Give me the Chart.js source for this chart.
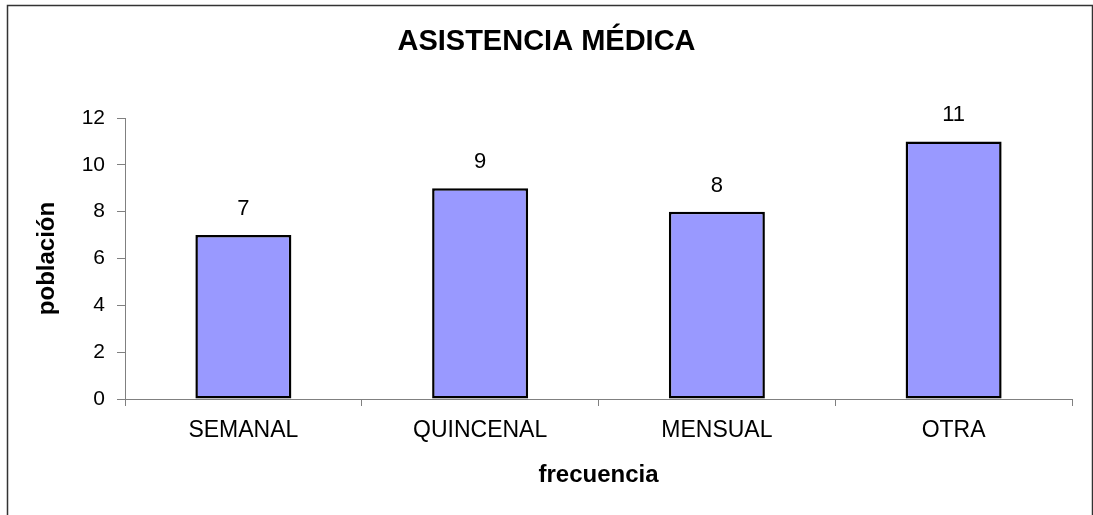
<!DOCTYPE html>
<html>
<head>
<meta charset="utf-8">
<script src="https://cdn.jsdelivr.net/npm/chart.js@4/dist/chart.umd.min.js"></script>
<style>
  html, body { margin: 0; padding: 0; background: #ffffff; }
  #wrap { width: 1093px; height: 515px; position: relative; }
</style>
</head>
<body>
<div id="wrap"><canvas id="c"></canvas></div>
<script>
const titleText = "ASISTENCIA MÉDICA";
const categories = ["SEMANAL", "QUINCENAL", "MENSUAL", "OTRA"];
const poblacion = [7, 9, 8, 11];
const xAxisTitle = "frecuencia";
const yAxisTitle = "población";
const yMin = 0, yMax = 12, yStep = 2;

const FONT = 'Arial, "Liberation Sans", sans-serif';
const AXIS_GREY = '#808080';

const framePlugin = {
  id: 'frame',
  beforeDraw(chart) {
    const ctx = chart.ctx;
    ctx.save();
    ctx.fillStyle = '#ffffff';
    ctx.fillRect(0, 0, chart.width, chart.height);
    ctx.strokeStyle = '#333333';
    ctx.lineWidth = 1.5;
    ctx.strokeRect(7.5, 5.5, 1085, 600);
    ctx.restore();
  }
};

const valueLabels = {
  id: 'valueLabels',
  afterDatasetsDraw(chart) {
    const ctx = chart.ctx;
    const meta = chart.getDatasetMeta(0);
    ctx.save();
    ctx.font = '22px ' + FONT;
    ctx.fillStyle = '#000000';
    ctx.textAlign = 'center';
    ctx.textBaseline = 'middle';
    meta.data.forEach((bar, i) => {
      ctx.fillText(String(chart.data.datasets[0].data[i]), bar.x, bar.y - 26);
    });
    ctx.restore();
  }
};

new Chart(document.getElementById('c'), {
  type: 'bar',
  data: {
    labels: categories,
    datasets: [{
      label: yAxisTitle,
      data: poblacion,
      backgroundColor: '#9999FF',
      borderColor: '#000000',
      borderWidth: 2.5,
      borderSkipped: false,
      barPercentage: 0.4055,
      categoryPercentage: 1.0
    }]
  },
  options: {
    responsive: true,
    maintainAspectRatio: false,
    animation: false,
    layout: { padding: { left: 0, right: 0, top: 0, bottom: 0 } },
    plugins: {
      legend: { display: false },
      tooltip: { enabled: false },
      title: {
        display: true,
        text: titleText,
        color: '#000000',
        font: { family: FONT, size: 29, weight: 'bold', lineHeight: 1.2 },
        padding: { top: 24.6, bottom: 58.6 }
      }
    },
    scales: {
      x: {
        grid: {
          display: true,
          drawOnChartArea: false,
          drawTicks: true,
          tickLength: 7,
          offset: true,
          color: AXIS_GREY,
          lineWidth: 1
        },
        border: { display: true, color: AXIS_GREY, width: 1 },
        ticks: {
          color: '#000000',
          font: { family: FONT, size: 23 },
          padding: 11.2,
          maxRotation: 0,
          autoSkip: false
        },
        title: {
          display: true,
          text: xAxisTitle,
          color: '#000000',
          font: { family: FONT, size: 24, weight: 'bold', lineHeight: 1.2 },
          padding: { top: 0, bottom: 25.6 }
        },
        afterFit(scale) { scale.height = 116; }
      },
      y: {
        min: yMin,
        max: yMax,
        grid: {
          display: true,
          drawOnChartArea: false,
          drawTicks: true,
          tickLength: 8,
          color: AXIS_GREY,
          lineWidth: 1
        },
        border: { display: true, color: AXIS_GREY, width: 1 },
        ticks: {
          stepSize: yStep,
          color: '#000000',
          font: { family: FONT, size: 21 },
          padding: 12
        },
        title: {
          display: true,
          text: yAxisTitle,
          color: '#000000',
          font: { family: FONT, size: 24, weight: 'bold', lineHeight: 1.2 },
          padding: { top: 32.6, bottom: 0 }
        },
        afterFit(scale) { scale.width = 125; }
      },
      yRightSpace: {
        position: 'right',
        min: yMin,
        max: yMax,
        grid: { display: false, drawTicks: false },
        border: { display: false },
        ticks: { display: false },
        title: { display: false },
        afterFit(scale) { scale.width = 21; }
      }
    }
  },
  plugins: [framePlugin, valueLabels]
});
</script>
</body>
</html>
